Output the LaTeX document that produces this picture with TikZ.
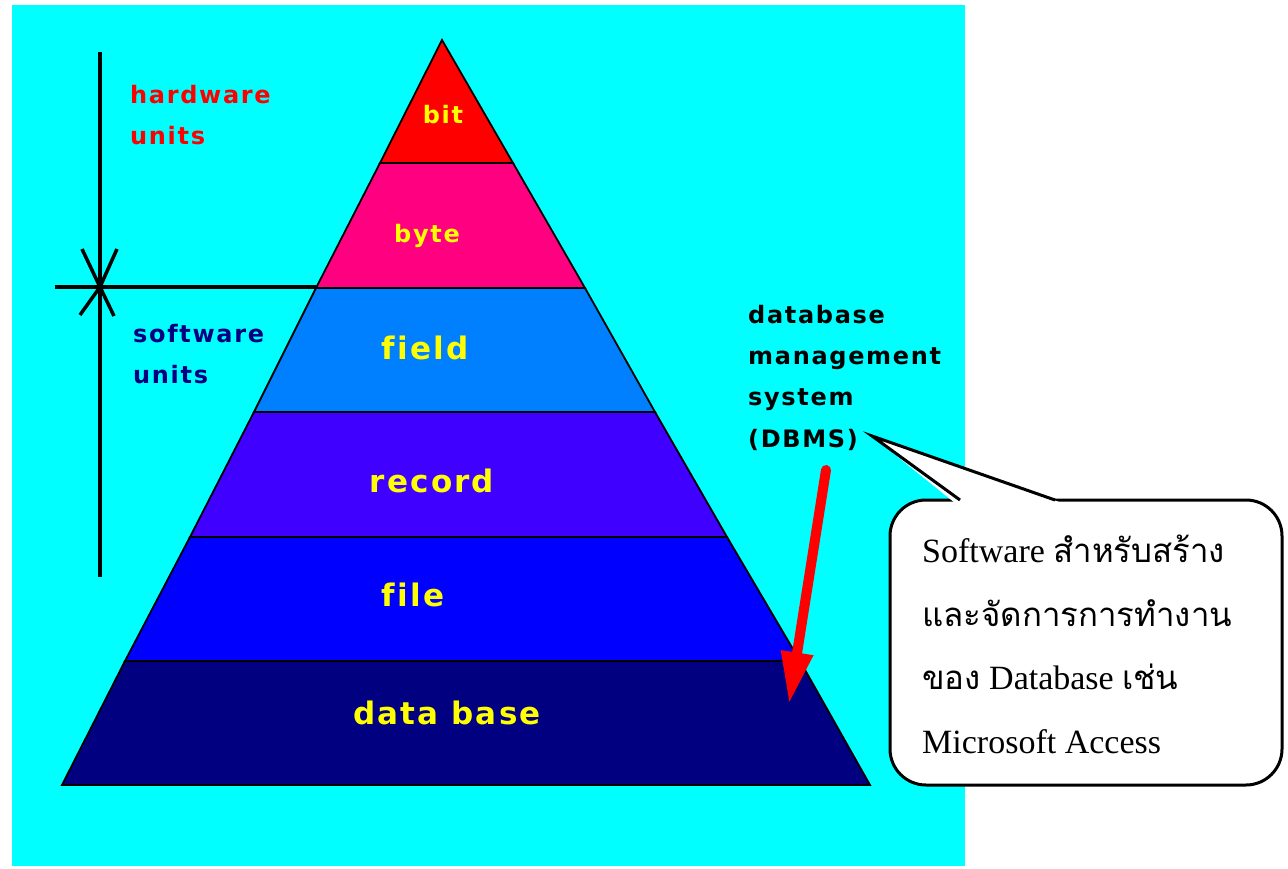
\documentclass[tikz,border=0pt]{standalone}
\usepackage{fontspec}
\usetikzlibrary{arrows.meta}
\newfontfamily\pix{DejaVu Sans Bold}[LetterSpace=7, Ligatures=CommonOff]
\newfontfamily\thaifont[Script=Thai]{Loma}
\newfontfamily\serif{Liberation Serif}
\definecolor{bgcyan}{HTML}{00FFFF}
\definecolor{cbit}{HTML}{FF0000}
\definecolor{cbyte}{HTML}{FF0080}
\definecolor{cfield}{HTML}{0080FF}
\definecolor{crecord}{HTML}{4000FF}
\definecolor{cfile}{HTML}{0000FF}
\definecolor{cdb}{HTML}{000080}
\definecolor{lblyellow}{HTML}{FFFF00}
\definecolor{navytxt}{HTML}{000080}
\tikzset{
  layer/.style={draw=black, line width=1.8pt, line join=miter},
  lvl/.style={anchor=base, text=lblyellow, font=\pix\fontsize{31}{34}\selectfont, inner sep=0pt},
  lvlsmall/.style={lvl, font=\pix\fontsize{24}{28}\selectfont},
  side/.style={anchor=base west, font=\pix\fontsize{24}{28}\selectfont, inner sep=0pt},
  dimline/.style={line width=3.5pt, black},
  calloutbox/.style={draw=black, fill=white, line width=3pt, rounded corners=36pt},
  callouttext/.style={anchor=base west, inner sep=0pt, font=\serif\fontsize{34}{40}\selectfont},
}
\begin{document}
\begin{tikzpicture}[x=1pt,y=-1pt]
\useasboundingbox (0,0) rectangle (1288,869);
\fill[bgcyan] (12,5) rectangle (965,866);
% pyramid layers
\filldraw[layer, fill=cdb]     (125,661) -- (800,661) -- (870,785) -- (62,785) -- cycle;
\filldraw[layer, fill=cfile]   (190,537) -- (727,537) -- (800,661) -- (125,661) -- cycle;
\filldraw[layer, fill=crecord] (254,412) -- (655,412) -- (727,537) -- (190,537) -- cycle;
\filldraw[layer, fill=cfield]  (316,288) -- (585,288) -- (655,412) -- (254,412) -- cycle;
\filldraw[layer, fill=cbyte]   (380,163) -- (513,163) -- (585,288) -- (316,288) -- cycle;
\filldraw[layer, fill=cbit]    (442,40) -- (513,163) -- (380,163) -- cycle;
% level labels
\node[lvlsmall] (bit) at (443,124) {bit};
\node[lvlsmall] (byte) at (427,243) {byte};
\node[lvl] (field) at (425,359) {field};
\node[lvl] (record) at (432,492) {record};
\node[lvl] (file) at (413,606) {file};
\node[lvl] (database) at (447,724) {data base};
% dimension lines
\coordinate (vtop) at (100,52);
\coordinate (vbot) at (100,577);
\coordinate (hl) at (55,287);
\coordinate (hr) at (316,287);
\coordinate (cross) at (100,287);
\draw[dimline] (vtop) -- (vbot);
\draw[dimline] (hl) -- (hr);
\draw[dimline, line join=miter] (82,249) -- (cross) -- (117,249);
\draw[dimline, line join=miter] (80,315) -- (cross) -- (114,316);
% side labels
\node[side, text=red] (hw1) at (130,104) {hardware};
\node[side, text=red] (hw2) at (130,145) {units};
\node[side, text=navytxt] (sw1) at (133,342) {software};
\node[side, text=navytxt] (sw2) at (133,383) {units};
\node[side, text=black] (db1) at (748,323) {database};
\node[side, text=black] (db2) at (748,364) {management};
\node[side, text=black] (db3) at (748,405) {system};
\node[side, text=black] (db4) at (748,447) {(DBMS)};
% red arrow
\coordinate (ars) at (826,470);
\coordinate (are) at (789,704);
\draw[red, line width=10pt, line cap=round, -{Triangle[width=30pt,length=52pt]}] (ars) -- (are);
% callout
\node[calloutbox, minimum width=392pt, minimum height=285pt, inner sep=0pt] (callout) at (1086,642.5) {};
\coordinate (ptip) at (872,436);
\coordinate (pl) at (960,500);
\coordinate (pr) at (1055,500);
\fill[white] (955,503) -- (ptip) -- (1062,503) -- cycle;
\draw[line width=3pt, line join=miter] (pl) -- (ptip) -- (pr);
\node[callouttext] (t1) at (922,562) {Software {\thaifont\fontsize{33}{40}\selectfont สำหรับสร้าง}};
\node[callouttext] (t2) at (922,626) {\thaifont\fontsize{33}{40}\selectfont และจัดการการทำงาน};
\node[callouttext] (t3) at (922,689) {{\thaifont\fontsize{33}{40}\selectfont ของ} Database {\thaifont\fontsize{33}{40}\selectfont เช่น}};
\node[callouttext] (t4) at (922,753) {Microsoft Access};
\end{tikzpicture}
\end{document}
